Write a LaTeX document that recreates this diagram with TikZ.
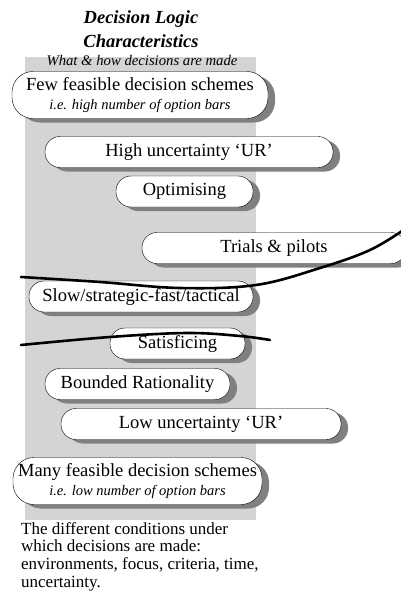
\documentclass[tikz,border=0pt]{standalone}
\usepackage{fontspec}
\setmainfont{Liberation Serif}
\usetikzlibrary{shadows}

\tikzset{
  pill/.style={draw, fill=white, rounded corners=15pt, minimum height=31pt, inner sep=0pt,
    font=\fontsize{18.5}{20}\selectfont,
    drop shadow={shadow xshift=7pt, shadow yshift=-4pt, fill=black!50, opacity=1}},
  bigpill/.style={pill, rounded corners=21pt, minimum height=47pt, align=center},
  cutline/.style={line width=2.6pt, line cap=round},
}

\begin{document}
\begin{tikzpicture}[x=1pt, y=-1pt]
  \useasboundingbox (0,0) rectangle (401,605);
  \clip (0,0) rectangle (401,605);

  % shaded band
  \fill[black!17] (25,57) rectangle (256,520);

  % heading
  \node[font=\fontsize{18.5}{20}\selectfont\bfseries\itshape] (title) at (141,19) {Decision Logic};
  \node[font=\fontsize{18.5}{20}\selectfont\bfseries\itshape] (title2) at (141,41) {Characteristics};
  \node[font=\fontsize{14.7}{16}\selectfont\itshape] (sub) at (142,61) {What \& how decisions are made};

  % characteristics, top to bottom
  \node[bigpill, minimum width=256pt] (few) at (140,95)
    {Few feasible decision schemes\\[-1pt]{\fontsize{14.5}{15}\selectfont\itshape i.e. high number of option bars}};
  \node[pill, minimum width=288pt] (high) at (189,152) {High uncertainty ‘UR’};
  \node[pill, minimum width=137pt] (opt) at (184.5,191.5) {Optimising};
  \node[pill, minimum width=264pt] (trials) at (274,248) {Trials \& pilots};
  \node[pill, minimum width=224pt] (slow) at (141,296.5) {Slow/strategic-fast/tactical};
  \node[pill, minimum width=135pt] (sat) at (177.5,343.5) {Satisficing};
  \node[pill, minimum width=185pt] (bounded) at (137.5,384) {Bounded Rationality};
  \node[pill, minimum width=280pt] (low) at (201,424) {Low uncertainty ‘UR’};
  \node[bigpill, minimum width=249pt] (many) at (137.5,481)
    {Many feasible decision schemes\\[-1pt]{\fontsize{14.5}{15}\selectfont\itshape i.e. low number of option bars}};

  % dividing lines
  \draw[cutline] plot[smooth, tension=0.6] coordinates
    {(21,277) (100,282) (180,288) (256,285) (320,268) (370,250) (405,229)};
  \draw[cutline] plot[smooth, tension=0.6] coordinates
    {(21,345) (110,337) (187,333) (240,336) (270,340)};

  % note
  \node[anchor=north west, align=left, inner sep=0pt, font=\fontsize{17}{17.7}\selectfont]
    (note) at (21,522) {The different conditions under\\which decisions are made:\\environments, focus, criteria, time,\\uncertainty.};
\end{tikzpicture}
\end{document}
